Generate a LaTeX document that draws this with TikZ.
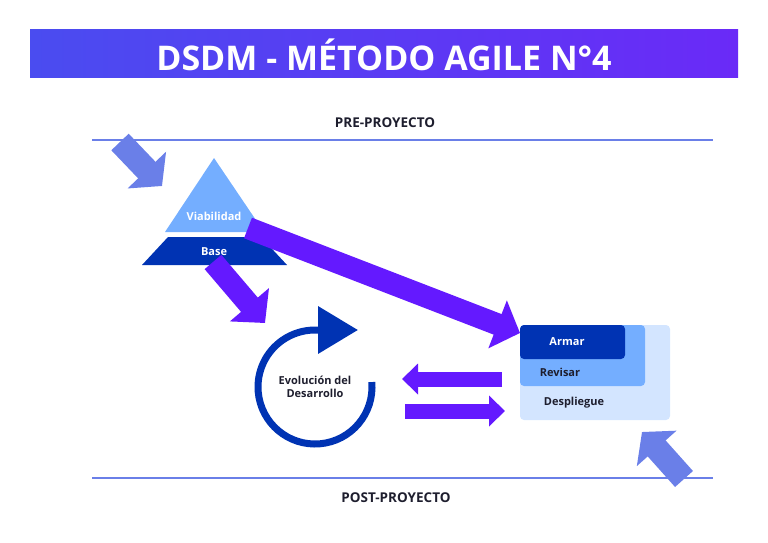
\documentclass[tikz,border=0pt]{standalone}
\usepackage{fontspec}
\setmainfont{Open Sans}
\usetikzlibrary{arrows.meta,positioning}
\definecolor{ttlA}{HTML}{4A4CF0}
\definecolor{ttlB}{HTML}{6A2AF7}
\definecolor{lineblue}{HTML}{6A7FE8}
\definecolor{violet}{HTML}{6419FF}
\definecolor{darkblue}{HTML}{0033B3}
\definecolor{midblue}{HTML}{74AEFF}
\definecolor{paleblue}{HTML}{D3E5FF}
\definecolor{ink}{HTML}{1E1E2E}
\tikzset{
  bigarrow/.style={line width=#1, -{Triangle[length=22pt,width=50pt]}},
  smallarrow/.style={violet, line width=15pt, -{Triangle[length=16pt,width=30pt]}},
  lbl/.style={font=\bfseries\fontsize{11}{13}\selectfont},
  phase/.style={font=\bfseries\fontsize{13.5}{16}\selectfont, text=ink},
}
\begin{document}
\begin{tikzpicture}[x=1pt, y=-1pt]
        \useasboundingbox (0,0) rectangle (768,543);
        % title
        \shade[left color=ttlA, right color=ttlB] (30,30) rectangle (738,77);
        \node[text=white, font=\bfseries\fontsize{34}{38}\selectfont] (title) at (384,55) {DSDM - MÉTODO AGILE N°4};
        % phases
        \node[phase] (pre) at (385,123) {PRE-PROYECTO};
        \node[phase] (post) at (396,498) {POST-PROYECTO};
        \draw[lineblue, line width=1.5pt] (92,140) -- (713,140);
        \draw[lineblue, line width=1.5pt] (92,478) -- (713,478);
        % pyramid
        \fill[midblue] (214,158) -- (264,232) -- (165,232) -- cycle;
        \fill[darkblue] (168,237) -- (261,237) -- (287,265) -- (142,265) -- cycle;
        \node[lbl, text=white] (viab) at (214,216) {Viabilidad};
        \node[lbl, text=white] (base) at (214,252) {Base};
        % stacked boxes
        \fill[paleblue, rounded corners=4pt] (520,325) rectangle (670,420);
        \fill[midblue, rounded corners=4pt] (520,325) rectangle (645,386);
        \fill[darkblue, rounded corners=4pt] (520,325) rectangle (625,359);
        \node[lbl, text=white] (armar) at (567,342) {Armar};
        \node[lbl, text=ink] (revisar) at (560,372) {Revisar};
        \node[lbl, text=ink] (despl) at (574,403) {Despliegue};
        % cycle
        \node[lbl, text=ink, align=center] (evol) at (315,387) {Evolución del\\Desarrollo};
        \draw[darkblue, line width=7pt, -{Triangle[length=40pt,width=46pt]}]
            ([shift={(-5:57)}]evol.center) arc[start angle=-5, end angle=270, radius=57] -- ++(43,0);
        % block arrows
        \coordinate (inA) at (120,142);
        \coordinate (inB) at (162,186);
        \coordinate (outA) at (684,479);
        \coordinate (outB) at (642,432);
        \draw[lineblue, bigarrow=24pt, -{Triangle[length=22pt,width=52pt]}] (inA) -- (inB);
        \draw[lineblue, bigarrow=24pt, -{Triangle[length=22pt,width=52pt]}] (outA) -- (outB);
        \draw[violet, line width=22pt, -{Triangle[length=24pt,width=50pt]}] (248,228) -- (520,333);
        \draw[violet, line width=22pt, -{Triangle[length=24pt,width=50pt]}] (213,262) -- (265,323);
        \draw[smallarrow] (502,379) -- (402,379);
        \draw[smallarrow] (405,411) -- (505,411);
\end{tikzpicture}
\end{document}
